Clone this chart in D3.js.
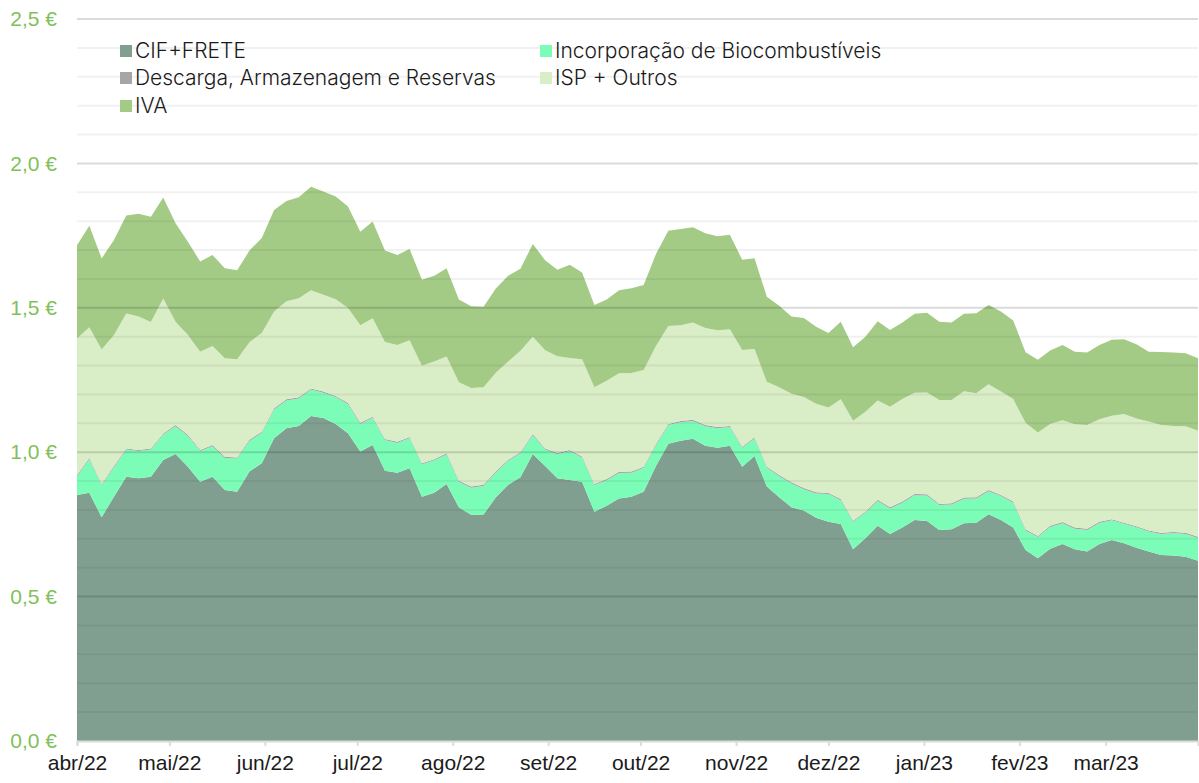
<!DOCTYPE html>
<html>
<head>
<meta charset="utf-8">
<script src="https://cdn.jsdelivr.net/npm/d3@7"></script>
<style>
  body { margin: 0; background: #fff; }
  svg { display: block; font-family: Inter, "Noto Sans", sans-serif; }
</style>
</head>
<body>
<div id="chart"></div>
<script>
// one reading every 4 days, from 1 Apr 2022 to 31 Mar 2023
var startDate = new Date(2022, 3, 1);
var stepDays = 4;

var cifFrete = [0.852,0.860,0.775,0.846,0.915,0.910,0.915,0.973,0.994,0.950,0.898,0.915,0.869,0.863,0.933,0.962,
  1.048,1.083,1.091,1.125,1.118,1.098,1.066,1.002,1.025,0.936,0.929,0.944,0.846,0.860,0.890,0.809,
  0.783,0.784,0.844,0.887,0.913,0.994,0.952,0.910,0.904,0.898,0.794,0.815,0.840,0.846,0.863,0.952,
  1.029,1.040,1.047,1.022,1.015,1.022,0.950,0.987,0.881,0.844,0.809,0.798,0.773,0.759,0.751,0.664,
  0.702,0.745,0.717,0.739,0.765,0.762,0.731,0.733,0.754,0.756,0.785,0.765,0.739,0.661,0.633,0.666,
  0.682,0.664,0.656,0.682,0.696,0.685,0.669,0.656,0.644,0.642,0.638,0.624];
var incorporacao = [0.065,0.116,0.111,0.102,0.094,0.094,0.094,0.088,0.096,0.106,0.106,0.106,0.111,0.115,0.106,0.105,
  0.100,0.096,0.095,0.092,0.088,0.093,0.100,0.096,0.094,0.106,0.103,0.105,0.112,0.112,0.102,0.088,
  0.094,0.099,0.086,0.083,0.083,0.065,0.057,0.083,0.100,0.083,0.092,0.088,0.088,0.083,0.083,0.072,
  0.065,0.064,0.061,0.068,0.068,0.065,0.065,0.061,0.065,0.073,0.083,0.074,0.084,0.096,0.083,0.095,
  0.088,0.086,0.088,0.086,0.086,0.088,0.086,0.086,0.085,0.084,0.080,0.083,0.086,0.068,0.073,0.075,
  0.072,0.071,0.075,0.073,0.068,0.067,0.071,0.069,0.073,0.078,0.079,0.079];
var descarga = [0.004,0.004,0.004,0.004,0.004,0.004,0.004,0.004,0.004,0.004,0.004,0.004,0.004,0.004,0.004,0.004,
  0.004,0.004,0.004,0.004,0.004,0.004,0.004,0.004,0.004,0.004,0.004,0.004,0.004,0.004,0.004,0.004,
  0.004,0.004,0.004,0.004,0.004,0.004,0.004,0.004,0.004,0.004,0.004,0.004,0.004,0.004,0.004,0.004,
  0.004,0.004,0.004,0.004,0.004,0.004,0.004,0.004,0.004,0.004,0.004,0.004,0.004,0.004,0.004,0.004,
  0.004,0.004,0.004,0.004,0.004,0.004,0.004,0.004,0.004,0.004,0.004,0.004,0.004,0.004,0.004,0.004,
  0.004,0.004,0.004,0.004,0.004,0.004,0.004,0.004,0.004,0.004,0.004,0.004];
var ispOutros = [0.473,0.453,0.466,0.454,0.467,0.462,0.438,0.467,0.358,0.346,0.340,0.343,0.341,0.340,0.338,0.342,
  0.335,0.340,0.343,0.340,0.335,0.335,0.329,0.338,0.341,0.336,0.335,0.335,0.337,0.338,0.335,0.341,
  0.341,0.338,0.341,0.340,0.351,0.337,0.340,0.335,0.318,0.337,0.335,0.340,0.341,0.341,0.335,0.340,
  0.339,0.332,0.337,0.336,0.335,0.335,0.335,0.305,0.294,0.304,0.306,0.315,0.307,0.296,0.345,0.346,
  0.346,0.344,0.348,0.355,0.351,0.353,0.360,0.358,0.368,0.360,0.366,0.358,0.355,0.369,0.358,0.353,
  0.353,0.358,0.359,0.355,0.358,0.376,0.373,0.377,0.373,0.367,0.369,0.367];
var iva = [0.323,0.351,0.315,0.329,0.340,0.356,0.364,0.350,0.341,0.323,0.312,0.315,0.312,0.308,0.317,0.329,
  0.352,0.347,0.350,0.358,0.358,0.355,0.352,0.323,0.335,0.316,0.312,0.316,0.298,0.297,0.306,0.287,
  0.283,0.279,0.292,0.297,0.284,0.321,0.312,0.300,0.323,0.300,0.285,0.282,0.288,0.294,0.294,0.318,
  0.330,0.333,0.330,0.328,0.326,0.327,0.312,0.315,0.294,0.282,0.268,0.274,0.266,0.258,0.269,0.254,
  0.260,0.274,0.266,0.265,0.273,0.276,0.271,0.268,0.268,0.277,0.275,0.277,0.272,0.244,0.252,0.254,
  0.260,0.251,0.251,0.257,0.263,0.259,0.257,0.242,0.253,0.254,0.253,0.251];

var seriesNames = ["CIF+FRETE", "Incorporação de Biocombustíveis", "Descarga, Armazenagem e Reservas", "ISP + Outros", "IVA"];
var seriesColors = ["#819f90", "#7cfdb7", "#a8a0ab", "#d9edc6", "#a3cb86"];
var legendColors = ["#819f90", "#7cfdb7", "#a6a6a6", "#d9edc6", "#a3cb86"];
var monthLabels = ["jan", "fev", "mar", "abr", "mai", "jun", "jul", "ago", "set", "out", "nov", "dez"];
var yTicks = [0, 0.5, 1, 1.5, 2, 2.5];
var yMinorTicks = [0.1, 0.2, 0.3, 0.4, 0.6, 0.7, 0.8, 0.9, 1.1, 1.2, 1.3, 1.4, 1.6, 1.7, 1.8, 1.9, 2.1, 2.2, 2.3, 2.4];

var W = 1199, H = 783;
var margin = {top: 19, right: 1, bottom: 42, left: 77};
var width = W - margin.left - margin.right;
var height = H - margin.top - margin.bottom;

var svg = d3.select("#chart").append("svg")
  .attr("width", W)
  .attr("height", H);

var g = svg.append("g")
  .attr("transform", "translate(" + margin.left + "," + margin.top + ")");

var keys = ["cif", "inc", "desc", "isp", "iva"];
var rows = cifFrete.map(function(v, i) {
  return {
    date: d3.timeDay.offset(startDate, i * stepDays),
    cif: v, inc: incorporacao[i], desc: descarga[i], isp: ispOutros[i], iva: iva[i]
  };
});

var x = d3.scaleTime()
  .domain([startDate, rows[rows.length - 1].date])
  .range([0, width]);

var y = d3.scaleLinear()
  .domain([0, 2.5])
  .range([height, 0]);

var stacked = d3.stack().keys(keys)(rows);

var area = d3.area()
  .x(function(d) { return x(d.data.date); })
  .y0(function(d) { return y(d[0]); })
  .y1(function(d) { return y(d[1]); });

g.selectAll(".layer")
  .data(stacked)
  .enter().append("path")
  .attr("class", "layer")
  .attr("d", area)
  .attr("fill", function(d, i) { return seriesColors[i]; });

// grid lines on top of the areas, translucent
g.append("g")
  .selectAll("line")
  .data(yMinorTicks)
  .enter().append("line")
  .attr("x1", 0).attr("x2", width)
  .attr("y1", function(d) { return y(d); })
  .attr("y2", function(d) { return y(d); })
  .attr("stroke", "rgba(0,0,0,0.055)")
  .attr("stroke-width", 2);

g.append("g")
  .selectAll("line")
  .data(yTicks.slice(1))
  .enter().append("line")
  .attr("x1", 0).attr("x2", width)
  .attr("y1", function(d) { return y(d); })
  .attr("y2", function(d) { return y(d); })
  .attr("stroke", "rgba(0,0,0,0.14)")
  .attr("stroke-width", 2);

var yAxis = g.append("g")
  .call(d3.axisLeft(y)
    .tickValues(yTicks)
    .tickSize(0)
    .tickPadding(20)
    .tickFormat(function(d) { return d3.format(".1f")(d).replace(".", ",") + " €"; }));
yAxis.select(".domain").remove();
yAxis.selectAll("text")
  .attr("fill", "#7fc15b")
  .style("font-size", "21px")
  .style("font-weight", "300");

var xAxis = g.append("g")
  .attr("transform", "translate(0," + height + ")")
  .call(d3.axisBottom(x)
    .ticks(d3.timeMonth.every(1))
    .tickSize(5)
    .tickPadding(9)
    .tickFormat(function(d) {
      return monthLabels[d.getMonth()] + "/" + String(d.getFullYear()).slice(2);
    }));
xAxis.select(".domain").attr("stroke", "#dcdcdc").attr("stroke-width", 2);
xAxis.selectAll(".tick line").attr("stroke", "#dcdcdc").attr("stroke-width", 2);
xAxis.selectAll("text")
  .attr("fill", "#1a1a1a")
  .style("font-size", "21px")
  .style("font-weight", "300");

// legend: two columns, filled row by row
var legendPos = [[120, 51], [540, 51], [120, 78], [540, 78], [120, 106]];
var legend = svg.append("g");
seriesNames.forEach(function(name, i) {
  var item = legend.append("g")
    .attr("transform", "translate(" + legendPos[i][0] + "," + legendPos[i][1] + ")");
  item.append("rect")
    .attr("x", 0).attr("y", -6)
    .attr("width", 12).attr("height", 12)
    .attr("fill", legendColors[i]);
  item.append("text")
    .attr("x", 15)
    .attr("dy", "0.35em")
    .attr("fill", "#1a1a1a")
    .style("font-size", "21px")
    .style("font-weight", "300")
    .text(name);
});
</script>
</body>
</html>
